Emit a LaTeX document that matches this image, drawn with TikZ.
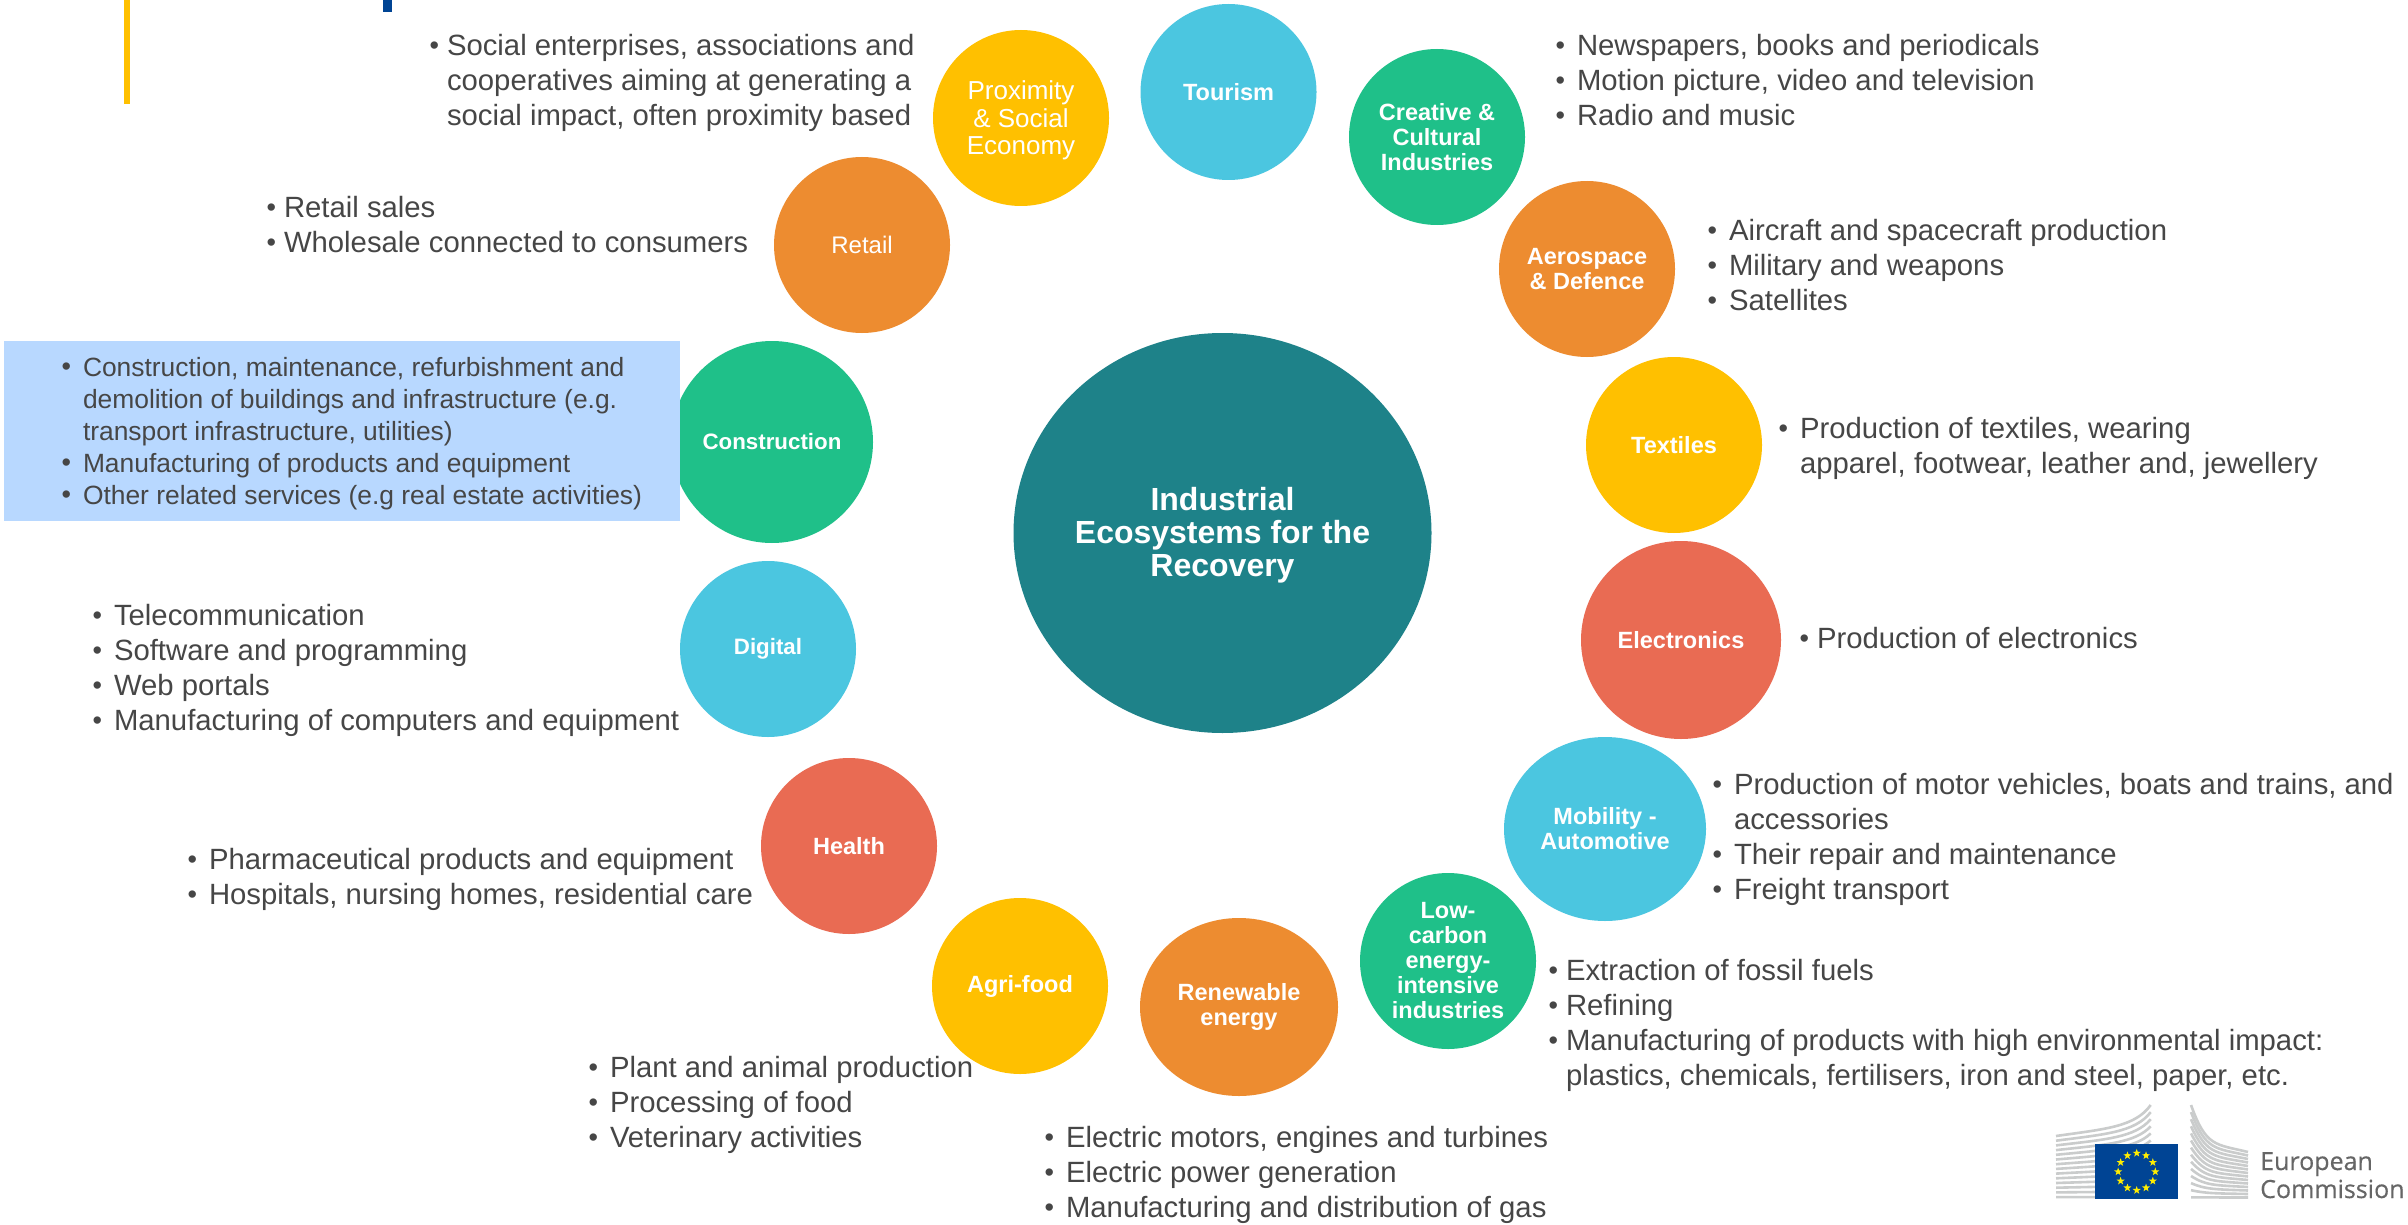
\documentclass[tikz,border=0pt]{standalone}
\usepackage{fontspec}
\setmainfont{Liberation Sans}
\newfontfamily\ecfont[FakeBold=0.35]{Open Sans}
\usetikzlibrary{shapes.geometric,calc}
\definecolor{tealc}{HTML}{1E8289}
\definecolor{cyanc}{HTML}{4BC6E0}
\definecolor{greenc}{HTML}{1FC089}
\definecolor{orangec}{HTML}{ED8C30}
\definecolor{yellowc}{HTML}{FFC000}
\definecolor{redc}{HTML}{E96B53}
\definecolor{boxc}{HTML}{B8D8FF}
\definecolor{textc}{HTML}{464646}
\definecolor{eublue}{HTML}{004494}
\definecolor{eustar}{HTML}{FFED00}
\definecolor{bldg}{HTML}{CACCCC}
\definecolor{ectext}{HTML}{666666}
\newcommand{\blt}{\strut\llap{{\fontsize{27}{27}\selectfont\raisebox{1pt}{\textbullet}}\hspace{8pt}}}
\newcommand{\bltw}{\strut\llap{{\fontsize{27}{27}\selectfont\raisebox{1pt}{\textbullet}}\hspace{12pt}}}
\newcommand{\cnt}{\strut}
\tikzset{
  bub/.style={ellipse,draw=none,inner sep=0pt,minimum width=176pt,minimum height=176pt,align=center,text=white},
  boldlab/.style={font=\fontsize{23.5}{25}\selectfont\bfseries},
  boldsmall/.style={font=\fontsize{22.3}{25}\selectfont\bfseries},
  plainlab/.style={font=\fontsize{24}{27.5}\selectfont},
  plainbig/.style={font=\fontsize{26}{27.5}\selectfont},
  listtext/.style={anchor=north west,inner sep=0pt,outer sep=0pt,align=left,text=textc,yshift=24.5pt,font=\fontsize{29.3}{35}\selectfont},
  smalllist/.style={anchor=north west,inner sep=0pt,outer sep=0pt,align=left,text=textc,yshift=22.4pt,font=\fontsize{26.4}{32}\selectfont},
  stripe/.style={draw=bldg,line width=2.6pt},
  ectxt/.style={anchor=base west,inner sep=0pt,text=ectext,font=\fontsize{25}{25}\selectfont\ecfont}
}
\begin{document}
\begin{tikzpicture}[x=1pt,y=-1pt]
\useasboundingbox (0,0) rectangle (2408,1225);
\fill[white] (0,0) rectangle (2408,1225);
% header marks
\fill[yellowc] (124,0) rectangle (130,104);
\fill[eublue] (383,0) rectangle (392,12);
% centre
\node[bub,fill=tealc,minimum width=418pt,minimum height=400pt,font=\fontsize{32}{33}\selectfont\bfseries] (centre) at (1222.5,533) {\rule{0pt}{28pt}Industrial\\Ecosystems for the\\Recovery};
% ring
\node[bub,fill=cyanc,boldlab] (tourism) at (1228.5,92) {Tourism};
\node[bub,fill=greenc,boldlab] (creative) at (1437,137) {Creative \&\\Cultural\\Industries};
\node[bub,fill=orangec,boldlab] (aero) at (1587,269) {Aerospace\\\& Defence};
\node[bub,fill=yellowc,boldlab] (textiles) at (1674,445) {Textiles};
\node[bub,fill=redc,boldlab,minimum width=200pt,minimum height=198pt] (electronics) at (1681,640) {Electronics};
\node[bub,fill=cyanc,boldlab,minimum width=202pt,minimum height=184pt] (mobility) at (1605,829) {Mobility -\\Automotive};
\node[bub,fill=greenc,boldlab] (lowcarbon) at (1448,961) {Low-\\carbon\\energy-\\intensive\\industries};
\node[bub,fill=orangec,boldlab,minimum width=198pt,minimum height=178pt] (renewable) at (1239,1007) {Renewable\\energy};
\node[bub,fill=yellowc,boldlab] (agri) at (1020,986) {Agri-food};
\node[bub,fill=redc,boldlab] (health) at (849,846) {Health};
\node[bub,fill=cyanc,boldsmall] (digital) at (768,649) {Digital};
\node[bub,fill=greenc,boldsmall,minimum width=202pt,minimum height=202pt] (construction) at (772,442) {Construction};
\node[bub,fill=orangec,plainlab] (retail) at (862,245) {Retail};
\node[bub,fill=yellowc,plainbig] (proximity) at (1021,118) {\rule{0pt}{24pt}Proximity\\\& Social\\Economy};
% highlighted box
\node[anchor=north west,fill=boxc,inner sep=0pt,minimum width=676pt,minimum height=180pt] (conbox) at (4,341) {};
% lists
\node[listtext] (lproximity) at (447,56) {\blt Social enterprises, associations and\\\cnt cooperatives aiming at generating a\\\cnt social impact, often proximity based};
\node[listtext] (lretail) at (284,217) {\blt Retail sales\\\blt Wholesale connected to consumers};
\node[smalllist] (lconstruction) at (83,376) {\bltw Construction, maintenance, refurbishment and\\\cnt demolition of buildings and infrastructure (e.g.\\\cnt transport infrastructure, utilities)\\\bltw Manufacturing of products and equipment\\\bltw Other related services (e.g real estate activities)};
\node[listtext] (ldigital) at (114,625) {\bltw Telecommunication\\\bltw Software and programming\\\bltw Web portals\\\bltw Manufacturing of computers and equipment};
\node[listtext] (lhealth) at (209,869) {\bltw Pharmaceutical products and equipment\\\bltw Hospitals, nursing homes, residential care};
\node[listtext] (lagri) at (610,1077) {\bltw Plant and animal production\\\bltw Processing of food\\\bltw Veterinary activities};
\node[listtext] (lrenew) at (1066,1147) {\bltw Electric motors, engines and turbines\\\bltw Electric power generation\\\bltw Manufacturing and distribution of gas};
\node[listtext] (llow) at (1566,980) {\blt Extraction of fossil fuels\\\blt Refining\\\blt Manufacturing of products with high environmental impact:\\\cnt plastics, chemicals, fertilisers, iron and steel, paper, etc.};
\node[listtext] (lmob) at (1734,794) {\bltw Production of motor vehicles, boats and trains, and\\\cnt accessories\\\bltw Their repair and maintenance\\\bltw Freight transport};
\node[listtext] (lelec) at (1817,648) {\blt Production of electronics};
\node[listtext] (ltext) at (1800,438) {\bltw Production of textiles, wearing\\\cnt apparel, footwear, leather and, jewellery};
\node[listtext] (laero) at (1729,240) {\bltw Aircraft and spacecraft production\\\bltw Military and weapons\\\bltw Satellites};
\node[listtext] (lcreative) at (1577,56) {\bltw Newspapers, books and periodicals\\\bltw Motion picture, video and television\\\bltw Radio and music};
% logo: left wing
\foreach \i in {0,...,13}{
  \pgfmathsetmacro{\ly}{1136+\i*4.7}
  \pgfmathsetmacro{\ry}{1105+\i*7.1}
  \pgfmathsetmacro{\cy}{\ly-7*(1-\i/13)}
  \pgfmathsetmacro{\dy}{\ry+22*(1-\i/13)}
  \draw[stripe] (2056,\ly) .. controls (2105,\cy) and (2135,\dy) .. (2150.7,\ry);
}
% logo: right wing
\foreach \i in {0,...,13}{
  \pgfmathsetmacro{\ly}{1105+\i*7.1}
  \pgfmathsetmacro{\ry}{1152+\i*3.5}
  \pgfmathsetmacro{\cy}{\ly+42*(1-\i/13)}
  \pgfmathsetmacro{\dy}{\ry-8*(1-\i/13)}
  \draw[stripe] (2191,\ly) .. controls (2206,\cy) and (2215,\dy) .. (2248,\ry);
}
% logo: flag
\node[anchor=north west,fill=eublue,inner sep=0pt,minimum width=83pt,minimum height=55pt] (flag) at (2095,1144) {};
\foreach \i in {1,...,12}{
  \node[star,star points=5,star point ratio=2.5,fill=eustar,inner sep=0pt,minimum size=8.5pt] (st\i) at ($(flag.center)+({18.6*cos(\i*30)},{18.6*sin(\i*30)})$) {};
}
\node[ectxt] (ec1) at (2260,1170) {European};
\node[ectxt] (ec2) at (2260,1198) {Commission};
\end{tikzpicture}
\end{document}
